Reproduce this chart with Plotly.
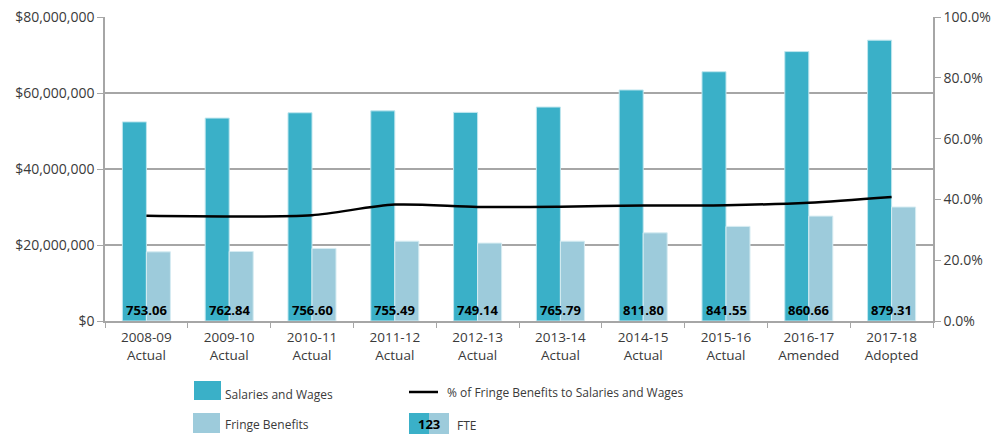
import plotly.graph_objects as go

categories = ["2008-09<br>Actual", "2009-10<br>Actual", "2010-11<br>Actual", "2011-12<br>Actual",
              "2012-13<br>Actual", "2013-14<br>Actual", "2014-15<br>Actual", "2015-16<br>Actual",
              "2016-17<br>Amended", "2017-18<br>Adopted"]
salaries = [52.4e6, 53.4e6, 54.8e6, 55.3e6, 54.9e6, 56.3e6, 60.8e6, 65.6e6, 70.9e6, 73.9e6]
fringe = [18.2e6, 18.3e6, 19.1e6, 21.0e6, 20.5e6, 21.0e6, 23.2e6, 24.9e6, 27.6e6, 30.0e6]
pct_fringe = [0.346, 0.344, 0.348, 0.383, 0.375, 0.376, 0.380, 0.381, 0.389, 0.408]
fte = ["753.06", "762.84", "756.60", "755.49", "749.14", "765.79", "811.80", "841.55", "860.66", "879.31"]

C_SAL = "#3AB0C8"
C_FR = "#9DCBDB"
GRID = "#A6A6A6"
TXT = "#3A3A3A"
FONT = "Open Sans"

fig = go.Figure()
fig.add_trace(go.Bar(x=categories, y=salaries, name="Salaries and Wages",
                     marker=dict(color=C_SAL, line=dict(color="#BFE6EE", width=1))))
fig.add_trace(go.Bar(x=categories, y=fringe, name="Fringe Benefits",
                     marker=dict(color=C_FR, line=dict(color="#D6ECF2", width=1))))
fig.add_trace(go.Scatter(x=categories, y=pct_fringe, yaxis="y2", mode="lines",
                         line=dict(color="black", width=2.5, shape="spline", smoothing=0.8),
                         name="% of Fringe Benefits to Salaries and Wages"))

annotations = []
for c, f in zip(categories, fte):
    annotations.append(dict(x=c, y=0, xref="x", yref="y", text="<b>" + f + "</b>",
                            showarrow=False, yanchor="bottom", yshift=0,
                            font=dict(family=FONT, size=13, color="black")))

W, L, R, T, B = 994, 105, 933, 17, 321


def px(x):
    return (x - L) / (R - L)


def py(y):
    return (B - y) / (B - T)


shapes = [
    dict(type="rect", xref="paper", yref="paper", x0=px(194), x1=px(221), y0=py(400), y1=py(381),
         fillcolor=C_SAL, line=dict(width=0)),
    dict(type="rect", xref="paper", yref="paper", x0=px(193), x1=px(220), y0=py(433), y1=py(413),
         fillcolor=C_FR, line=dict(width=0)),
    dict(type="line", xref="paper", yref="paper", x0=px(409), x1=px(438), y0=py(392), y1=py(392),
         line=dict(color="black", width=2.5)),
    dict(type="rect", xref="paper", yref="paper", x0=px(409), x1=px(429), y0=py(434), y1=py(413),
         fillcolor=C_SAL, line=dict(width=0)),
    dict(type="rect", xref="paper", yref="paper", x0=px(429), x1=px(449), y0=py(434), y1=py(413),
         fillcolor=C_FR, line=dict(width=0)),
]
legend_texts = [
    ("Salaries and Wages", 223, 394),
    ("Fringe Benefits", 223, 424),
    ("% of Fringe Benefits to Salaries and Wages", 445, 392),
    ("FTE", 455, 425),
]
for t, x, y in legend_texts:
    annotations.append(dict(xref="paper", yref="paper", x=px(x), y=py(y), text=t,
                            showarrow=False, xanchor="left", yanchor="middle",
                            font=dict(family=FONT, size=12, color=TXT)))
annotations.append(dict(xref="paper", yref="paper", x=px(429), y=py(424), text="<b>123</b>",
                        showarrow=False, xanchor="center", yanchor="middle",
                        font=dict(family=FONT, size=13, color="black")))

fig.update_layout(
    width=W, height=434,
    margin=dict(l=L, r=W - R, t=T, b=434 - B, autoexpand=False),
    paper_bgcolor="white", plot_bgcolor="white",
    barmode="group", bargap=0.42, bargroupgap=0,
    showlegend=False,
    font=dict(family=FONT, size=14, color=TXT),
    xaxis=dict(showline=True, linecolor=GRID, linewidth=1.5, ticks="outside", tickson="boundaries",
               ticklen=5, tickcolor=GRID, tickfont=dict(size=13.5, color=TXT), showgrid=False,
               automargin=False, ticklabelstandoff=3),
    yaxis=dict(range=[0, 80e6], tickvals=[0, 20e6, 40e6, 60e6, 80e6],
               ticktext=["$0", "$20,000,000", "$40,000,000", "$60,000,000", "$80,000,000"],
               showgrid=True, gridcolor=GRID, gridwidth=1.5, showline=True, linecolor=GRID, linewidth=1.5,
               ticks="outside", ticklen=6, tickcolor=GRID, zeroline=False, automargin=False,
               tickfont=dict(size=14, color=TXT)),
    yaxis2=dict(range=[0, 1], overlaying="y", side="right", tickvals=[0, 0.2, 0.4, 0.6, 0.8, 1.0],
                tickformat=".1%", showgrid=False, showline=True, linecolor=GRID, linewidth=1.5,
                ticks="outside", ticklen=6, tickcolor=GRID, zeroline=False, automargin=False,
                tickfont=dict(size=14, color=TXT)),
    annotations=annotations,
    shapes=shapes,
)

fig.write_html("out.html", config={"displayModeBar": False},
               post_script="document.body.style.margin='0';document.body.style.overflow='hidden';")
